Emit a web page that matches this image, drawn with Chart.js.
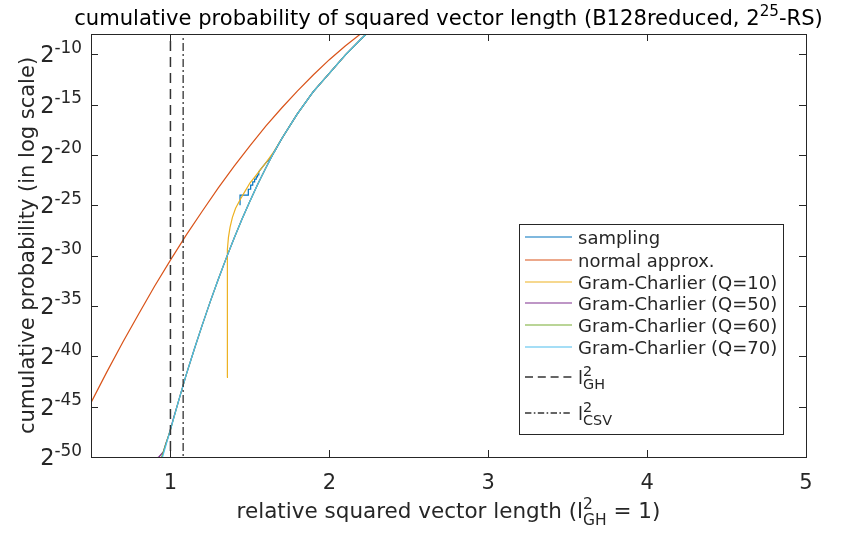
<!DOCTYPE html>
<html>
<head>
<meta charset="utf-8">
<script src="https://cdn.jsdelivr.net/npm/chart.js@4.4.1/dist/chart.umd.min.js"></script>
<style>
  html, body { margin: 0; padding: 0; background: #fff; }
  #wrap { width: 843px; height: 535px; position: relative; }
</style>
</head>
<body>
<div id="wrap"><canvas id="myChart"></canvas></div>
<script>
// x: squared length relative to l_GH^2, y values stored as log2 of the probability
const xTicks = [1, 2, 3, 4, 5];
const yTickExps = [-50, -45, -40, -35, -30, -25, -20, -15, -10];
const xMin = 0.5, xMax = 5;
const yMinExp = -50, yMaxExp = -8;

const lGH = 1.0;
const lCSV = 1.08;

const samplingX = [1.438, 1.438, 1.490, 1.490, 1.505, 1.505, 1.518, 1.518, 1.530, 1.530, 1.540, 1.540, 1.548, 1.548, 1.556, 1.556,
  1.575, 1.600, 1.630, 1.661, 1.679, 1.716, 1.756, 1.795, 1.841, 1.886, 1.939, 1.994, 2.050, 2.106, 2.169, 2.231, 2.300];
const samplingExp = [-25, -24, -24, -23.415, -23.415, -23, -23, -22.68, -22.68, -22.415, -22.415, -22.19, -22.19, -22, -22, -21.68,
  -21.3, -20.8, -20.3, -19.5, -19, -18, -17, -16, -15, -14, -13, -12, -11, -10, -9, -8, -7];

const normalX = [0.5, 0.6, 0.7, 0.8, 0.9, 1.0, 1.1, 1.2, 1.3, 1.4, 1.5, 1.6, 1.7, 1.8, 1.9, 2.0, 2.1, 2.2, 2.3];
const normalExp = [-44.6, -41.55, -38.6, -35.8, -33.05, -30.45, -27.95, -25.6, -23.3, -21.15, -19.1, -17.15, -15.35, -13.65, -12.05, -10.55, -9.2, -7.95, -6.75];

const gc10X = [1.356, 1.357, 1.358, 1.360, 1.365, 1.375, 1.39, 1.41, 1.44, 1.47, 1.5, 1.53, 1.56, 1.6, 1.65, 1.7, 1.8, 1.9, 2.0, 2.1, 2.2, 2.3];
const gc10Exp = [-42.1, -36.0, -31.5, -29.4, -28.2, -27.2, -26.2, -25.3, -24.4, -23.6, -22.8, -22.2, -21.6, -20.8, -19.7, -18.4, -15.9, -13.7, -11.9, -10.1, -8.5, -7.0];

const gc50X = [0.85, 0.89, 0.93, 0.955, 0.97, 0.99, 1.02, 1.05, 1.1, 1.15, 1.2, 1.25, 1.3, 1.35, 1.4, 1.45, 1.5, 1.55, 1.6, 1.65, 1.7, 1.8, 1.9, 2.0, 2.1, 2.2, 2.3];
const gc50Exp = [-51.0, -50.4, -49.95, -49.5, -48.7, -47.8, -46.1, -44.5, -41.8, -39.3, -36.9, -34.6, -32.4, -30.3, -28.3, -26.4, -24.6, -22.9, -21.3, -19.8, -18.4, -15.9, -13.7, -11.9, -10.1, -8.5, -7.0];

const gc60X = [0.935, 0.945, 1.0, 1.05, 1.1, 1.15, 1.2, 1.25, 1.3, 1.35, 1.4, 1.45, 1.5, 1.55, 1.6, 1.65, 1.7, 1.8, 1.9, 2.0, 2.1, 2.2, 2.3];
const gc60Exp = [-50.6, -50.0, -47.3, -44.5, -41.8, -39.3, -36.9, -34.6, -32.4, -30.3, -28.3, -26.4, -24.6, -22.9, -21.3, -19.8, -18.4, -15.9, -13.7, -11.9, -10.1, -8.5, -7.0];

const gc70X = [0.94, 0.95, 1.0, 1.05, 1.1, 1.15, 1.2, 1.25, 1.3, 1.35, 1.4, 1.45, 1.5, 1.55, 1.6, 1.65, 1.7, 1.8, 1.9, 2.0, 2.1, 2.2, 2.3];
const gc70Exp = [-50.6, -50.0, -47.3, -44.5, -41.8, -39.3, -36.9, -34.6, -32.4, -30.3, -28.3, -26.4, -24.6, -22.9, -21.3, -19.8, -18.4, -15.9, -13.7, -11.9, -10.1, -8.5, -7.0];

const FONT = '"DejaVu Sans", "Noto Sans", sans-serif';
const INK = '#262626';

const toPts = (xs, es) => xs.map((x, i) => ({ x: x, y: Math.pow(2, es[i]) }));
const vline = (x) => [{ x: x, y: Math.pow(2, yMinExp - 1) }, { x: x, y: Math.pow(2, yMaxExp + 1) }];

const series = [
  { label: 'sampling', color: '#0072BD', data: toPts(samplingX, samplingExp), order: 5 },
  { label: 'normal approx.', color: '#D95319', data: toPts(normalX, normalExp), order: 4 },
  { label: 'Gram-Charlier (Q=10)', color: '#EDB120', data: toPts(gc10X, gc10Exp), order: 3 },
  { label: 'Gram-Charlier (Q=50)', color: '#7E2F8E', data: toPts(gc50X, gc50Exp), order: 2 },
  { label: 'Gram-Charlier (Q=60)', color: '#77AC30', data: toPts(gc60X, gc60Exp), order: 1 },
  { label: 'Gram-Charlier (Q=70)', color: '#4DBEEE', data: toPts(gc70X, gc70Exp), order: 0 },
  { label: 'l2GH', color: '#333', data: vline(lGH), order: -1, dash: [10, 6], width: 1.5, sub: 'GH' },
  { label: 'l2CSV', color: '#333', data: vline(lCSV), order: -2, dash: [8, 3, 2, 3], width: 1.3, sub: 'CSV' }
];

function setFont(ctx, size) { ctx.font = size + 'px ' + FONT; }

// text with superscripts / stacked sup+sub pieces; y is the baseline
function richWidth(ctx, parts, size, r) {
  let w = 0;
  parts.forEach(p => {
    if (p.stack) {
      setFont(ctx, size * r);
      w += Math.max(ctx.measureText(p.stack[0]).width, ctx.measureText(p.stack[1]).width);
    } else {
      setFont(ctx, p.sup ? size * r : size);
      w += ctx.measureText(p.t).width;
    }
  });
  return w;
}
function drawRich(ctx, parts, x, y, size, align, ratio) {
  const r = ratio || 0.72;
  const w = richWidth(ctx, parts, size, r);
  let cx = align === 'center' ? x - w / 2 : (align === 'right' ? x - w : x);
  ctx.textAlign = 'left';
  ctx.textBaseline = 'alphabetic';
  parts.forEach(p => {
    if (p.stack) {
      setFont(ctx, size * r);
      ctx.fillText(p.stack[0], cx, y - size * 0.42);
      ctx.fillText(p.stack[1], cx, y + size * 0.32);
      cx += Math.max(ctx.measureText(p.stack[0]).width, ctx.measureText(p.stack[1]).width);
    } else if (p.sup) {
      setFont(ctx, size * r);
      ctx.fillText(p.t, cx, y - size * 0.42);
      cx += ctx.measureText(p.t).width;
    } else {
      setFont(ctx, size);
      ctx.fillText(p.t, cx, y);
      cx += ctx.measureText(p.t).width;
    }
  });
}

const frame = {
  id: 'frame',
  afterDraw(chart) {
    const ctx = chart.ctx;
    const a = chart.chartArea;
    const xs = chart.scales.x, ys = chart.scales.y;
    const tick = 7;
    ctx.save();
    ctx.strokeStyle = INK;
    ctx.fillStyle = INK;
    ctx.lineWidth = 1;

    // box with inward ticks on all four sides
    ctx.strokeRect(Math.round(a.left) + 0.5, Math.round(a.top) + 0.5, Math.round(a.right - a.left), Math.round(a.bottom - a.top));
    ctx.beginPath();
    xTicks.forEach(v => {
      const px = Math.round(xs.getPixelForValue(v)) + 0.5;
      ctx.moveTo(px, a.bottom); ctx.lineTo(px, a.bottom - tick);
      ctx.moveTo(px, a.top); ctx.lineTo(px, a.top + tick);
    });
    yTickExps.forEach(e => {
      const py = Math.round(ys.getPixelForValue(Math.pow(2, e))) + 0.5;
      ctx.moveTo(a.left, py); ctx.lineTo(a.left + tick, py);
      ctx.moveTo(a.right, py); ctx.lineTo(a.right - tick, py);
    });
    ctx.stroke();

    // tick labels
    xTicks.forEach(v => {
      drawRich(ctx, [{ t: String(v) }], xs.getPixelForValue(v), a.bottom + 32, 21, 'center');
    });
    yTickExps.forEach(e => {
      const py = ys.getPixelForValue(Math.pow(2, e));
      drawRich(ctx, [{ t: '2' }, { t: String(e), sup: true }], a.left - 9, py + 8, 22.5, 'right', 0.75);
    });

    // axis titles and chart title
    drawRich(ctx, [{ t: 'relative squared vector length (l' }, { stack: ['2', 'GH'] }, { t: ' = 1)' }],
      (a.left + a.right) / 2, 518, 21.5, 'center');
    ctx.save();
    ctx.translate(29, (a.top + a.bottom) / 2);
    ctx.rotate(-Math.PI / 2);
    drawRich(ctx, [{ t: 'cumulative probability (in log scale)' }], 0, 5, 21, 'center');
    ctx.restore();
    ctx.fillStyle = '#000';
    drawRich(ctx, [{ t: 'cumulative probability of squared vector length (B128reduced, 2' }, { t: '25', sup: true }, { t: '-RS)' }],
      (a.left + a.right) / 2, 24.5, 21.1, 'center');

    // legend
    const lx = 519, ly = 224, lw = 264, lh = 210;
    ctx.fillStyle = '#fff';
    ctx.fillRect(lx, ly, lw, lh);
    ctx.strokeStyle = INK;
    ctx.lineWidth = 1;
    ctx.strokeRect(lx + 0.5, ly + 0.5, lw, lh);
    const rows = [237, 260, 282, 303, 325, 347, 377, 413];
    series.forEach((s, i) => {
      const y = rows[i];
      ctx.beginPath();
      ctx.strokeStyle = s.color;
      ctx.lineWidth = s.width || 1.2;
      ctx.setLineDash(s.dash ? s.dash.map(d => d * 0.8) : []);
      ctx.moveTo(525, y); ctx.lineTo(572, y);
      ctx.stroke();
      ctx.setLineDash([]);
      ctx.fillStyle = INK;
      if (s.sub) {
        drawRich(ctx, [{ t: 'l' }, { stack: ['2', s.sub] }], 578, y + 6.5, 18, 'left', 0.8);
      } else {
        drawRich(ctx, [{ t: s.label }], 578, y + 6.5, 18, 'left');
      }
    });
    ctx.restore();
  }
};

const myChart = new Chart(document.getElementById('myChart'), {
  type: 'line',
  data: {
    datasets: series.map(s => ({
      label: s.label,
      data: s.data,
      borderColor: s.color,
      backgroundColor: s.color,
      borderWidth: s.width || 1.2,
      borderDash: s.dash || [],
      pointRadius: 0,
      fill: false,
      order: s.order,
      clip: 0
    }))
  },
  options: {
    responsive: true,
    maintainAspectRatio: false,
    animation: false,
    layout: { padding: { top: 34, right: 37, left: 0, bottom: 0 } },
    plugins: { legend: { display: false }, tooltip: { enabled: false } },
    scales: {
      x: {
        type: 'linear', min: xMin, max: xMax,
        grid: { display: false }, border: { display: false },
        ticks: { display: false },
        afterFit(scale) { scale.height = 78; }
      },
      y: {
        type: 'logarithmic', min: Math.pow(2, yMinExp), max: Math.pow(2, yMaxExp),
        grid: { display: false }, border: { display: false },
        ticks: { display: false },
        afterFit(scale) { scale.width = 91; }
      }
    }
  },
  plugins: [frame]
});
</script>
</body>
</html>
